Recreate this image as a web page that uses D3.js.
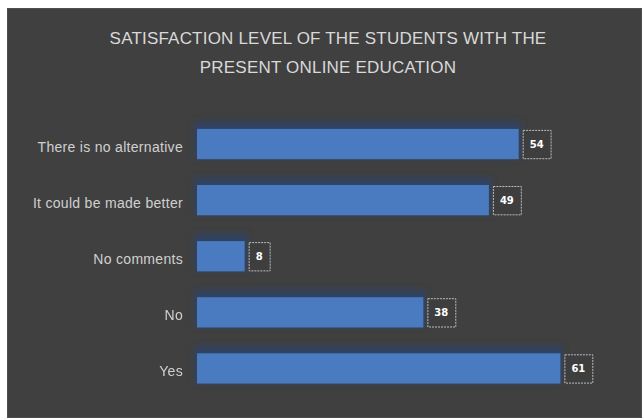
<!DOCTYPE html>
<html>
<head>
<meta charset="utf-8">
<script src="https://cdn.jsdelivr.net/npm/d3@7"></script>
<style>
  html, body { margin: 0; padding: 0; background: #ffffff; }
  svg { display: block; }
</style>
</head>
<body>
<svg id="chart" width="642" height="418"></svg>
<script>
// Survey responses: satisfaction with present online education
const categories = ["There is no alternative", "It could be made better", "No comments", "No", "Yes"];
const counts = [54, 49, 8, 38, 61];
const titleLines = ["SATISFACTION LEVEL OF THE STUDENTS WITH THE", "PRESENT ONLINE EDUCATION"];

const svg = d3.select("#chart");
const W = 642, H = 418;
const FONT = "'Liberation Sans', Arial, sans-serif";

// dark panel
svg.append("rect")
  .attr("x", 7.5).attr("y", 8.5)
  .attr("width", W - 8).attr("height", H - 9)
  .attr("fill", "#404040")
  .attr("stroke", "#4e4e4e").attr("stroke-width", 1);

// title
svg.append("g").selectAll("text")
  .data(titleLines)
  .join("text")
  .attr("x", 328)
  .attr("y", (d, i) => 44 + i * 29)
  .attr("text-anchor", "middle")
  .attr("font-family", FONT)
  .attr("font-size", 17)
  .attr("letter-spacing", 0.2)
  .attr("fill", "#d9d9d9")
  .text(d => d);

const x = d3.scaleLinear().domain([0, 70]).range([197, 614]);
const y = d3.scaleBand().domain(categories).range([116, 396.5]).paddingInner(0.46).paddingOuter(0.23);

// soft shadow above each bar
const defs = svg.append("defs");
const f = defs.append("filter").attr("id", "glow")
  .attr("x", "-10%").attr("y", "-60%").attr("width", "120%").attr("height", "220%");
f.append("feGaussianBlur").attr("stdDeviation", 3);

const data = categories.map((c, i) => ({ c, v: counts[i] }));

svg.append("g").attr("filter", "url(#glow)")
  .selectAll("rect")
  .data(data)
  .join("rect")
  .attr("x", x(0) - 2)
  .attr("y", d => y(d.c) - 7)
  .attr("width", d => x(d.v) - x(0) + 4)
  .attr("height", y.bandwidth() + 6)
  .attr("fill", "#2c4468")
  .attr("opacity", 0.9);

svg.append("g")
  .selectAll("rect")
  .data(data)
  .join("rect")
  .attr("x", x(0))
  .attr("y", d => y(d.c))
  .attr("width", d => x(d.v) - x(0))
  .attr("height", y.bandwidth())
  .attr("fill", "#4a7bc0");

// category axis
const axis = svg.append("g")
  .attr("transform", `translate(${x(0) - 14},3)`)
  .call(d3.axisLeft(y).tickSize(0).tickPadding(0));
axis.select(".domain").remove();
axis.selectAll("text")
  .attr("font-family", FONT)
  .attr("font-size", 14)
  .attr("letter-spacing", 0.3)
  .attr("fill", "#d0d0d0")
  .attr("dy", "0.35em");

// value labels in outlined boxes
const lab = svg.append("g").selectAll("g")
  .data(data)
  .join("g")
  .attr("transform", d => `translate(${x(d.v) + 4},${y(d.c)})`);

lab.append("text")
  .attr("y", y.bandwidth() / 2)
  .attr("dy", "0.35em")
  .attr("font-family", "'DejaVu Sans', sans-serif")
  .attr("font-weight", "bold")
  .attr("font-size", 10)
  .attr("fill", "#ffffff")
  .text(d => d.v);

lab.each(function() {
  const g = d3.select(this);
  const t = g.select("text");
  const w = t.node().getComputedTextLength();
  const pad = 7;
  g.insert("rect", "text")
    .attr("x", 0.5).attr("y", 1.5)
    .attr("width", w + pad * 2).attr("height", y.bandwidth() - 2)
    .attr("fill", "#3e3e3e")
    .attr("stroke", "#bdbdbd").attr("stroke-width", 1)
    .attr("stroke-dasharray", "2,1");
  t.attr("x", pad);
});
</script>
</body>
</html>
